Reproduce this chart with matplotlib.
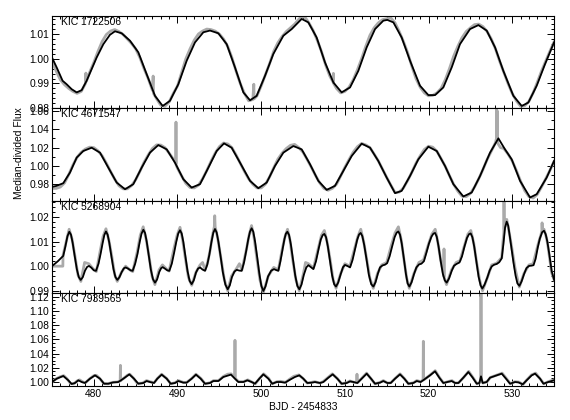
import matplotlib
matplotlib.use('Agg')
import matplotlib.pyplot as plt
from matplotlib.ticker import MultipleLocator, FormatStrFormatter

plt.rcParams['font.family'] = ['Liberation Sans', 'DejaVu Sans']
plt.rcParams['font.size'] = 7.4

# star identifiers, one per panel
kic_ids = ['KIC 1722506', 'KIC 4671547', 'KIC 5268904', 'KIC 7939565']

# ---- KIC 1722506: observed light curve (grey) and fitted model (black)
t1_obs = [475.00, 475.50, 476.00, 476.50, 477.00, 477.50, 478.00, 478.50, 479.00, 479.05, 479.10,
          479.50, 480.00, 480.50, 481.00, 481.50, 482.00, 482.50, 483.00, 483.50, 484.00, 484.50,
          485.00, 485.50, 486.00, 486.50, 487.00, 487.09, 487.13, 487.50, 488.00, 488.50, 489.00,
          489.50, 490.00, 490.50, 491.00, 491.50, 492.00, 492.50, 493.00, 493.50, 494.00, 494.50,
          495.00, 495.50, 496.00, 496.50, 497.00, 497.50, 498.00, 498.50, 499.00, 499.12, 499.16,
          499.50, 500.00, 500.50, 501.00, 501.50, 502.00, 502.50, 503.00, 503.50, 504.00, 504.50,
          504.90, 505.30, 505.70, 506.20, 506.70, 507.20, 507.70, 508.20, 508.60, 508.63, 508.66,
          509.00, 509.50, 510.00, 510.50, 511.00, 511.50, 512.00, 512.50, 513.00, 513.50, 514.00,
          514.50, 515.00, 515.50, 516.00, 516.50, 517.00, 517.50, 518.00, 518.50, 519.00, 519.50,
          520.00, 520.50, 521.00, 521.50, 522.00, 522.50, 523.00, 523.50, 524.00, 524.50, 525.00,
          525.50, 526.00, 526.50, 527.00, 527.50, 528.00, 528.50, 529.00, 529.50, 530.00, 530.50,
          531.00, 531.50, 532.00, 532.50, 533.00, 533.50, 534.00, 534.50, 535.00]
f1_obs = [0.9990, 0.9950, 0.9915, 0.9895, 0.9880, 0.9868, 0.9860, 0.9868, 0.9900, 0.9942, 0.9908,
          0.9945, 0.9985, 1.0030, 1.0070, 1.0098, 1.0112, 1.0118, 1.0110, 1.0098, 1.0080, 1.0062,
          1.0040, 1.0005, 0.9960, 0.9920, 0.9872, 0.9930, 0.9860, 0.9838, 0.9812, 0.9808, 0.9825,
          0.9860, 0.9890, 0.9945, 1.0000, 1.0040, 1.0075, 1.0100, 1.0112, 1.0120, 1.0118, 1.0112,
          1.0100, 1.0080, 1.0050, 1.0005, 0.9950, 0.9900, 0.9860, 0.9830, 0.9835, 0.9897, 0.9838,
          0.9850, 0.9890, 0.9935, 0.9980, 1.0030, 1.0065, 1.0090, 1.0110, 1.0125, 1.0140, 1.0160,
          1.0172, 1.0165, 1.0145, 1.0115, 1.0075, 1.0030, 0.9975, 0.9930, 0.9905, 0.9941, 0.9900,
          0.9880, 0.9862, 0.9868, 0.9885, 0.9915, 0.9955, 1.0000, 1.0050, 1.0095, 1.0125, 1.0145,
          1.0158, 1.0162, 1.0165, 1.0145, 1.0110, 1.0070, 1.0025, 0.9970, 0.9920, 0.9885, 0.9862,
          0.9850, 0.9852, 0.9862, 0.9880, 0.9915, 0.9960, 1.0010, 1.0050, 1.0085, 1.0110, 1.0125,
          1.0138, 1.0140, 1.0130, 1.0110, 1.0080, 1.0040, 0.9990, 0.9945, 0.9900, 0.9860, 0.9830,
          0.9808, 0.9810, 0.9828, 0.9862, 0.9905, 0.9950, 0.9990, 1.0030, 1.0068]
t1_fit = [475.00, 475.56, 476.27, 476.75, 477.35, 477.95, 478.55, 479.14, 479.74, 480.34, 481.14,
          481.93, 482.53, 483.33, 484.32, 485.32, 486.31, 487.31, 488.23, 489.10, 490.10, 491.10,
          492.09, 493.09, 493.88, 494.88, 495.88, 496.87, 497.87, 498.67, 499.46, 500.46, 501.45,
          502.65, 503.65, 504.84, 505.64, 506.63, 507.63, 508.63, 509.62, 510.62, 511.61, 512.61,
          513.61, 514.60, 515.08, 515.80, 516.79, 517.79, 518.98, 519.98, 520.78, 521.77, 522.77,
          523.76, 524.96, 525.96, 526.95, 527.95, 528.94, 530.14, 531.14, 531.93, 532.93, 533.92,
          535.00]
f1_fit = [1.0005, 0.9965, 0.9911, 0.9897, 0.9877, 0.9864, 0.9873, 0.9911, 0.9958, 1.0005, 1.0059,
          1.0097, 1.0111, 1.0103, 1.0073, 1.0026, 0.9938, 0.9850, 0.9809, 0.9830, 0.9897, 0.9992,
          1.0066, 1.0107, 1.0114, 1.0103, 1.0059, 0.9965, 0.9864, 0.9832, 0.9850, 0.9931, 1.0019,
          1.0093, 1.0120, 1.0161, 1.0147, 1.0086, 0.9985, 0.9904, 0.9864, 0.9884, 0.9951, 1.0046,
          1.0120, 1.0154, 1.0157, 1.0147, 1.0086, 0.9992, 0.9891, 0.9853, 0.9853, 0.9884, 0.9965,
          1.0059, 1.0120, 1.0136, 1.0114, 1.0046, 0.9951, 0.9850, 0.9809, 0.9823, 0.9891, 0.9978,
          1.0066]

# ---- KIC 4671547
t2_obs = [475.00, 475.50, 476.00, 476.50, 477.00, 477.50, 478.00, 478.50, 479.00, 479.50, 480.00,
          480.50, 481.00, 481.50, 482.00, 482.50, 483.00, 483.50, 484.00, 484.50, 485.00, 485.50,
          486.00, 486.50, 487.00, 487.50, 488.00, 488.50, 489.00, 489.50, 489.80, 489.82, 489.84,
          490.00, 490.50, 491.00, 491.50, 492.00, 492.50, 493.00, 493.50, 494.00, 494.50, 495.00,
          495.50, 496.00, 496.50, 497.00, 497.50, 498.00, 498.50, 499.00, 499.50, 500.00, 500.50,
          501.00, 501.50, 502.00, 502.50, 503.00, 503.50, 504.00, 504.50, 505.00, 505.50, 506.00,
          506.50, 507.00, 507.50, 508.00, 508.50, 509.00, 509.50, 510.00, 510.50, 511.00, 511.50,
          512.00, 512.50, 513.00, 513.50, 514.00, 514.50, 515.00, 515.50, 516.00, 516.50, 517.00,
          517.50, 518.00, 518.50, 519.00, 519.50, 520.00, 520.50, 521.00, 521.50, 522.00, 522.50,
          523.00, 523.50, 524.00, 524.50, 525.00, 525.50, 526.00, 526.50, 527.00, 527.50, 528.00,
          528.12, 528.14, 528.16, 528.20, 528.22, 528.26, 528.60, 529.00, 529.50, 530.00, 530.50,
          531.00, 531.50, 532.00, 532.50, 533.00, 533.50, 534.00, 534.50, 535.00]
f2_obs = [0.9755, 0.9755, 0.9770, 0.9815, 0.9905, 1.0010, 1.0095, 1.0150, 1.0185, 1.0205, 1.0200,
          1.0165, 1.0110, 1.0030, 0.9940, 0.9855, 0.9785, 0.9750, 0.9750, 0.9785, 0.9850, 0.9940,
          1.0040, 1.0120, 1.0190, 1.0230, 1.0228, 1.0200, 1.0140, 1.0075, 1.0025, 1.0478, 1.0010,
          0.9975, 0.9890, 0.9810, 0.9765, 0.9760, 0.9790, 0.9860, 0.9950, 1.0050, 1.0140, 1.0210,
          1.0250, 1.0240, 1.0200, 1.0120, 1.0030, 0.9940, 0.9860, 0.9800, 0.9760, 0.9760, 0.9800,
          0.9880, 0.9980, 1.0075, 1.0140, 1.0190, 1.0225, 1.0235, 1.0200, 1.0150, 1.0070, 0.9985,
          0.9895, 0.9815, 0.9755, 0.9735, 0.9755, 0.9800, 0.9890, 0.9985, 1.0070, 1.0150, 1.0210,
          1.0245, 1.0230, 1.0200, 1.0130, 1.0055, 0.9965, 0.9875, 0.9790, 0.9710, 0.9715, 0.9760,
          0.9840, 0.9930, 1.0030, 1.0110, 1.0180, 1.0215, 1.0205, 1.0160, 1.0080, 0.9995, 0.9895,
          0.9800, 0.9725, 0.9670, 0.9665, 0.9700, 0.9770, 0.9860, 0.9960, 1.0070, 1.0160, 1.0255,
          1.0300, 1.0620, 1.0300, 1.0290, 1.0600, 1.0250, 1.0200, 1.0190, 1.0130, 1.0055, 0.9950,
          0.9835, 0.9730, 0.9665, 0.9650, 0.9690, 0.9770, 0.9860, 0.9950, 1.0050]
t2_fit = [475.00, 475.56, 476.35, 477.15, 477.95, 478.74, 479.74, 480.74, 481.73, 482.73, 483.73,
          484.72, 485.72, 486.71, 487.71, 488.71, 489.70, 490.70, 491.69, 492.69, 493.69, 494.68,
          495.56, 496.47, 497.47, 498.67, 499.66, 500.66, 501.65, 502.65, 503.84, 504.84, 505.84,
          506.83, 507.83, 508.82, 509.82, 510.82, 512.01, 513.01, 514.00, 515.00, 516.00, 516.79,
          517.79, 518.78, 519.98, 520.98, 521.97, 522.97, 524.16, 525.16, 526.16, 527.35, 528.35,
          529.14, 529.94, 530.94, 532.13, 532.93, 534.12, 535.00]
f2_fit = [0.9772, 0.9783, 0.9812, 0.9928, 1.0091, 1.0163, 1.0199, 1.0145, 0.9982, 0.9819, 0.9746,
          0.9801, 0.9982, 1.0145, 1.0228, 1.0181, 1.0036, 0.9855, 0.9764, 0.9801, 0.9982, 1.0163,
          1.0246, 1.0199, 1.0036, 0.9837, 0.9757, 0.9819, 1.0000, 1.0145, 1.0217, 1.0181, 1.0018,
          0.9837, 0.9739, 0.9783, 0.9946, 1.0109, 1.0243, 1.0199, 1.0054, 0.9873, 0.9703, 0.9728,
          0.9891, 1.0072, 1.0210, 1.0163, 1.0000, 0.9801, 0.9667, 0.9710, 0.9891, 1.0145, 1.0301,
          1.0181, 1.0072, 0.9837, 0.9656, 0.9692, 0.9873, 1.0054]

# ---- KIC 5268904
t3_obs = [475.00, 476.30, 476.32, 476.70, 477.05, 477.40, 477.75, 478.10, 478.45, 478.90, 479.40,
          479.90, 480.30, 480.75, 481.10, 481.45, 481.80, 482.15, 482.50, 482.80, 483.30, 483.80,
          484.30, 484.65, 485.20, 485.55, 485.90, 486.25, 486.60, 486.95, 487.30, 487.80, 488.20,
          488.70, 489.00, 489.60, 489.95, 490.30, 490.60, 490.90, 491.30, 491.70, 492.20, 492.70,
          493.00, 493.30, 493.60, 493.90, 494.15, 494.40, 494.45, 494.50, 494.80, 495.15, 495.60,
          496.00, 496.45, 497.05, 497.40, 497.70, 498.25, 498.55, 498.85, 499.15, 499.45, 499.85,
          500.25, 500.85, 501.50, 502.05, 502.55, 502.85, 503.15, 503.45, 503.75, 504.15, 504.55,
          505.05, 505.30, 505.65, 506.25, 506.85, 507.20, 507.55, 507.90, 508.25, 508.60, 508.95,
          509.50, 510.00, 510.60, 511.20, 511.55, 511.90, 512.25, 512.60, 513.00, 513.40, 513.90,
          514.40, 515.00, 515.60, 516.00, 516.40, 516.75, 517.05, 517.40, 517.70, 518.25, 518.85,
          519.40, 520.00, 520.40, 520.80, 521.10, 521.45, 521.83, 521.85, 521.87, 522.15, 522.75,
          523.30, 523.75, 524.35, 524.70, 525.05, 525.40, 525.75, 526.10, 526.45, 527.05, 527.55,
          528.15, 528.75, 528.90, 529.00, 529.02, 529.05, 529.35, 529.65, 529.95, 530.35, 530.85,
          531.40, 532.00, 532.50, 533.10, 533.45, 533.55, 533.57, 533.60, 533.80, 534.10, 534.30,
          534.70, 535.00]
f3_obs = [1.0000, 1.0000, 1.0045, 1.0100, 1.0150, 1.0110, 1.0040, 0.9965, 0.9938, 1.0015, 1.0010,
          0.9990, 0.9978, 1.0060, 1.0120, 1.0152, 1.0105, 1.0040, 0.9965, 0.9938, 0.9975, 1.0000,
          0.9985, 0.9978, 1.0060, 1.0125, 1.0160, 1.0110, 1.0040, 0.9960, 0.9925, 0.9985, 1.0005,
          0.9988, 0.9980, 1.0075, 1.0125, 1.0158, 1.0110, 1.0040, 0.9955, 0.9922, 0.9975, 1.0005,
          1.0015, 0.9985, 1.0015, 1.0065, 1.0120, 1.0160, 1.0205, 1.0160, 1.0115, 1.0040, 0.9945,
          0.9900, 0.9960, 0.9990, 1.0010, 0.9985, 1.0070, 1.0125, 1.0165, 1.0115, 1.0040, 0.9945,
          0.9893, 0.9960, 0.9995, 0.9985, 1.0075, 1.0120, 1.0150, 1.0105, 1.0030, 0.9945, 0.9900,
          0.9970, 1.0015, 1.0010, 0.9992, 1.0075, 1.0125, 1.0145, 1.0095, 1.0025, 0.9945, 0.9910,
          0.9970, 1.0010, 1.0000, 1.0075, 1.0120, 1.0150, 1.0100, 1.0030, 0.9950, 0.9910, 0.9970,
          1.0005, 1.0015, 1.0090, 1.0135, 1.0160, 1.0105, 1.0030, 0.9950, 0.9910, 0.9970, 1.0015,
          1.0025, 1.0090, 1.0130, 1.0150, 1.0100, 1.0025, 0.9958, 1.0070, 0.9955, 0.9925, 0.9985,
          1.0015, 1.0022, 1.0090, 1.0130, 1.0145, 1.0095, 1.0015, 0.9945, 0.9900, 0.9955, 1.0005,
          1.0012, 1.0035, 1.0100, 1.0135, 1.0267, 1.0150, 1.0190, 1.0135, 1.0075, 0.9990, 0.9915,
          0.9970, 1.0005, 1.0010, 1.0090, 1.0130, 1.0145, 1.0176, 1.0150, 1.0150, 1.0115, 1.0075,
          0.9975, 0.9945]
# model read as (time, flux) pairs; this star's curve needs denser sampling
fit3 = [(475.00, 1.0000), (475.70, 1.0020), (476.35, 1.0042), (476.60, 1.0080), (476.85, 1.0122),
        (477.07, 1.0140), (477.27, 1.0128), (477.47, 1.0095), (477.72, 1.0040), (477.97, 0.9988),
        (478.20, 0.9956), (478.43, 0.9944), (478.68, 0.9955), (478.95, 0.9982), (479.20, 0.9997),
        (479.42, 1.0001), (479.70, 0.9994), (480.00, 0.9983), (480.26, 0.9981),
        (480.56, 1.0010), (480.81, 1.0050), (481.06, 1.0095), (481.26, 1.0127), (481.45, 1.0141),
        (481.65, 1.0128), (481.85, 1.0095), (482.10, 1.0040), (482.35, 0.9988), (482.58, 0.9956),
        (482.81, 0.9944), (483.06, 0.9955), (483.33, 0.9976), (483.58, 0.9991), (483.80, 0.9995),
        (484.10, 0.9990), (484.40, 0.9983), (484.64, 0.9981),
        (484.94, 1.0010), (485.22, 1.0050), (485.48, 1.0098), (485.70, 1.0132), (485.92, 1.0148),
        (486.12, 1.0135), (486.32, 1.0100), (486.57, 1.0043), (486.82, 0.9985), (487.07, 0.9947),
        (487.31, 0.9933), (487.56, 0.9946), (487.83, 0.9977), (488.05, 0.9992), (488.23, 0.9996),
        (488.50, 0.9990), (488.78, 0.9983), (489.02, 0.9981),
        (489.32, 1.0010), (489.60, 1.0055), (489.86, 1.0100), (490.09, 1.0133), (490.30, 1.0146),
        (490.50, 1.0133), (490.70, 1.0098), (490.95, 1.0040), (491.20, 0.9980), (491.45, 0.9940),
        (491.69, 0.9927), (491.94, 0.9942), (492.21, 0.9974), (492.45, 0.9990), (492.69, 0.9995),
        (493.00, 0.9986), (493.29, 0.9981),
        (493.55, 1.0005), (493.80, 1.0045), (494.05, 1.0097), (494.28, 1.0136), (494.48, 1.0151),
        (494.68, 1.0137), (494.90, 1.0097), (495.15, 1.0040), (495.42, 0.9975), (495.72, 0.9925),
        (496.00, 0.9906), (496.25, 0.9922), (496.50, 0.9955), (496.80, 0.9978), (497.07, 0.9985),
        (497.40, 0.9982), (497.67, 0.9981),
        (497.95, 1.0015), (498.20, 1.0060), (498.45, 1.0108), (498.66, 1.0140), (498.86, 1.0154),
        (499.06, 1.0140), (499.27, 1.0100), (499.52, 1.0038), (499.78, 0.9970), (500.02, 0.9920),
        (500.26, 0.9899), (500.52, 0.9918), (500.82, 0.9958), (501.20, 0.9982), (501.53, 0.9988),
        (501.80, 0.9984), (502.05, 0.9981),
        (502.30, 1.0020), (502.55, 1.0068), (502.78, 1.0110), (502.95, 1.0132), (503.13, 1.0140),
        (503.33, 1.0127), (503.55, 1.0088), (503.80, 1.0028), (504.07, 0.9962), (504.32, 0.9920),
        (504.56, 0.9906), (504.82, 0.9925), (505.10, 0.9965), (505.40, 0.9995), (505.64, 1.0004),
        (505.95, 0.9996), (506.24, 0.9988),
        (506.55, 1.0020), (506.85, 1.0068), (507.12, 1.0108), (507.35, 1.0126), (507.55, 1.0131),
        (507.75, 1.0118), (507.97, 1.0080), (508.22, 1.0022), (508.48, 0.9962), (508.72, 0.9927),
        (508.94, 0.9917), (509.20, 0.9933), (509.50, 0.9967), (509.78, 0.9996), (510.02, 1.0005),
        (510.35, 1.0000), (510.62, 0.9995),
        (510.92, 1.0025), (511.22, 1.0069), (511.48, 1.0108), (511.70, 1.0129), (511.89, 1.0135),
        (512.09, 1.0122), (512.32, 1.0085), (512.58, 1.0030), (512.87, 0.9965), (513.15, 0.9927),
        (513.41, 0.9917), (513.67, 0.9935), (513.95, 0.9970), (514.20, 0.9995), (514.50, 1.0003),
        (514.80, 1.0006), (515.05, 1.0012), (515.35, 1.0040),
        (515.65, 1.0080), (515.95, 1.0118), (516.19, 1.0136), (516.39, 1.0141), (516.59, 1.0128),
        (516.80, 1.0092), (517.05, 1.0032), (517.30, 0.9968), (517.50, 0.9930), (517.71, 0.9917),
        (517.98, 0.9935), (518.27, 0.9968), (518.55, 0.9995), (518.86, 1.0007), (519.15, 1.0010),
        (519.45, 1.0020), (519.75, 1.0055),
        (520.05, 1.0092), (520.35, 1.0120), (520.58, 1.0132), (520.78, 1.0135), (520.98, 1.0120),
        (521.20, 1.0080), (521.45, 1.0022), (521.72, 0.9968), (521.95, 0.9942), (522.17, 0.9933),
        (522.45, 0.9950), (522.77, 0.9981), (523.05, 1.0002), (523.35, 1.0009), (523.70, 1.0015),
        (524.00, 1.0040), (524.30, 1.0080),
        (524.60, 1.0115), (524.84, 1.0130), (525.04, 1.0133), (525.24, 1.0118), (525.47, 1.0078),
        (525.72, 1.0018), (525.98, 0.9958), (526.22, 0.9922), (526.43, 0.9909), (526.70, 0.9925),
        (527.03, 0.9954), (527.30, 0.9982), (527.55, 0.9999), (527.85, 1.0006), (528.15, 1.0009),
        (528.45, 1.0016), (528.75, 1.0032),
        (528.95, 1.0090), (529.15, 1.0158), (529.34, 1.0181), (529.52, 1.0165), (529.72, 1.0120),
        (529.94, 1.0065), (530.15, 1.0015), (530.40, 0.9962), (530.62, 0.9930), (530.86, 0.9920),
        (531.12, 0.9938), (531.41, 0.9967), (531.70, 0.9992), (532.01, 1.0001), (532.30, 1.0002),
        (532.55, 1.0004), (532.80, 1.0030), (533.05, 1.0075),
        (533.30, 1.0112), (533.58, 1.0138), (533.80, 1.0144), (534.00, 1.0130), (534.20, 1.0100),
        (534.45, 1.0045), (534.72, 0.9980), (535.00, 0.9945)]
t3_fit = [p[0] for p in fit3]
f3_fit = [p[1] for p in fit3]

# ---- KIC 7939565
t4_obs = [475.00, 475.50, 476.00, 476.40, 476.80, 477.20, 477.60, 478.00, 478.30, 478.70, 479.00,
          479.50, 480.00, 480.30, 480.70, 481.20, 481.70, 482.20, 482.80, 483.15, 483.18, 483.21,
          483.60, 484.00, 484.30, 484.70, 485.20, 485.80, 486.30, 486.70, 487.20, 487.60, 488.10,
          488.70, 489.20, 489.70, 490.10, 490.70, 491.10, 491.70, 492.20, 492.80, 493.30, 493.90,
          494.30, 494.90, 495.50, 496.00, 496.40, 496.84, 496.87, 496.90, 497.30, 497.90, 498.40,
          498.90, 499.30, 499.80, 500.30, 500.90, 501.30, 501.90, 502.30, 502.90, 503.40, 503.90,
          504.50, 505.00, 505.50, 506.00, 506.40, 507.00, 507.40, 508.00, 508.50, 509.10, 509.60,
          510.20, 510.60, 511.00, 511.40, 511.45, 511.50, 512.00, 512.60, 513.10, 513.60, 514.20,
          514.60, 515.10, 515.50, 516.00, 516.60, 517.10, 517.60, 518.20, 518.60, 519.05, 519.35,
          519.38, 519.41, 519.60, 520.20, 520.80, 521.30, 521.80, 522.30, 522.80, 523.20, 523.60,
          524.20, 524.80, 525.30, 525.80, 526.10, 526.25, 526.27, 526.30, 526.50, 527.00, 527.40,
          528.20, 528.80, 529.30, 529.80, 530.30, 530.80, 531.30, 531.70, 532.30, 532.80, 533.30,
          533.80, 534.30, 535.00]
f4_obs = [1.0000, 1.0045, 1.0075, 1.0090, 1.0045, 0.9980, 0.9975, 1.0015, 1.0030, 1.0000, 0.9990,
          1.0045, 1.0090, 1.0095, 1.0050, 0.9980, 0.9975, 0.9995, 1.0000, 1.0015, 1.0235, 1.0020,
          1.0055, 1.0095, 1.0110, 1.0060, 0.9980, 0.9985, 1.0020, 1.0005, 0.9990, 1.0050, 1.0110,
          1.0050, 0.9975, 0.9990, 1.0020, 0.9995, 0.9995, 1.0050, 1.0110, 1.0050, 0.9975, 0.9990,
          1.0020, 1.0020, 1.0080, 1.0110, 1.0115, 1.0060, 1.0588, 1.0050, 1.0005, 1.0005, 1.0030,
          1.0000, 0.9975, 1.0050, 1.0115, 1.0050, 0.9975, 1.0005, 1.0010, 0.9995, 1.0040, 1.0080,
          1.0100, 1.0050, 0.9985, 0.9995, 1.0005, 0.9985, 1.0005, 1.0065, 1.0115, 1.0050, 0.9975,
          0.9990, 1.0015, 1.0000, 0.9990, 1.0110, 0.9990, 1.0050, 1.0125, 1.0050, 0.9975, 0.9995,
          1.0020, 0.9985, 0.9990, 1.0050, 1.0115, 1.0050, 0.9975, 0.9990, 1.0020, 1.0005, 1.0030,
          1.0574, 1.0030, 1.0045, 1.0100, 1.0160, 1.0065, 0.9985, 1.0005, 1.0020, 0.9985, 0.9990,
          1.0065, 1.0150, 1.0065, 0.9975, 0.9990, 1.0040, 1.1250, 1.0040, 0.9985, 1.0005, 1.0065,
          1.0100, 1.0125, 1.0050, 0.9975, 1.0005, 1.0000, 0.9965, 1.0025, 1.0100, 1.0125, 1.0050,
          0.9975, 1.0005, 1.0030]
t4_fit = [475.00, 475.56, 476.35, 476.95, 477.35, 477.75, 478.15, 478.55, 478.94, 479.54, 480.14,
          480.74, 481.22, 481.73, 482.33, 482.93, 483.53, 484.24, 484.80, 485.32, 485.92, 486.31,
          486.71, 487.19, 487.59, 488.11, 488.71, 489.18, 489.70, 490.10, 490.70, 491.10, 491.69,
          492.21, 492.77, 493.29, 493.88, 494.28, 494.88, 495.48, 496.39, 496.87, 497.27, 497.87,
          498.35, 498.86, 499.26, 499.78, 500.26, 500.86, 501.33, 501.85, 502.33, 502.85, 503.45,
          504.04, 504.56, 505.04, 505.52, 506.04, 506.43, 507.03, 507.43, 508.03, 508.55, 509.10,
          509.62, 510.22, 510.62, 511.02, 511.49, 512.01, 512.61, 513.13, 513.61, 514.20, 514.60,
          515.08, 515.48, 516.00, 516.59, 517.11, 517.59, 518.19, 518.59, 519.06, 519.46, 520.18,
          520.78, 521.29, 521.77, 522.25, 522.77, 523.17, 523.57, 524.16, 524.76, 525.28, 525.76,
          526.08, 526.27, 526.47, 526.95, 527.35, 528.15, 528.75, 529.26, 529.74, 530.34, 530.74,
          531.26, 531.73, 532.33, 532.73, 533.33, 533.73, 534.32, 535.00]
f4_fit = [1.0000, 1.0047, 1.0085, 1.0024, 0.9972, 0.9986, 1.0024, 1.0000, 0.9986, 1.0047, 1.0094,
          1.0047, 0.9976, 0.9976, 0.9995, 1.0000, 1.0047, 1.0108, 1.0047, 0.9976, 0.9986, 1.0014,
          1.0000, 0.9986, 1.0047, 1.0104, 1.0047, 0.9976, 0.9986, 1.0014, 0.9991, 0.9991, 1.0047,
          1.0104, 1.0047, 0.9976, 0.9986, 1.0014, 1.0014, 1.0071, 1.0104, 1.0047, 1.0000, 1.0000,
          1.0024, 1.0000, 0.9976, 1.0047, 1.0108, 1.0047, 0.9976, 1.0000, 1.0000, 0.9991, 1.0033,
          1.0071, 1.0094, 1.0047, 0.9986, 0.9991, 1.0000, 0.9986, 1.0000, 1.0061, 1.0108, 1.0047,
          0.9976, 0.9986, 1.0009, 1.0000, 0.9986, 1.0047, 1.0118, 1.0047, 0.9976, 0.9991, 1.0014,
          0.9986, 0.9986, 1.0047, 1.0108, 1.0047, 0.9976, 0.9986, 1.0014, 1.0000, 1.0033, 1.0094,
          1.0151, 1.0061, 0.9986, 1.0000, 1.0014, 0.9986, 0.9986, 1.0061, 1.0141, 1.0061, 0.9976,
          0.9986, 1.0080, 0.9986, 1.0000, 1.0061, 1.0094, 1.0118, 1.0047, 0.9976, 1.0000, 0.9995,
          0.9967, 1.0024, 1.0094, 1.0118, 1.0047, 0.9976, 1.0000, 1.0024]

obs_t = [t1_obs, t2_obs, t3_obs, t4_obs]
obs_f = [f1_obs, f2_obs, f3_obs, f4_obs]
fit_t = [t1_fit, t2_fit, t3_fit, t4_fit]
fit_f = [f1_fit, f2_fit, f3_fit, f4_fit]

# axis setup per panel: y limits, major step, minor step
ylims = [(0.9799, 1.0173), (0.9618, 1.0627), (0.9889, 1.0265), (0.9944, 1.1248)]
ymajor = [0.01, 0.02, 0.01, 0.02]
yminor = [0.002, 0.01, 0.002, 0.005]

fig, axes = plt.subplots(4, 1, sharex=True, figsize=(5.7, 4.2), dpi=100)
fig.subplots_adjust(left=0.0912, right=0.972, top=0.962, bottom=0.081, hspace=0)

for i, ax in enumerate(axes):
    ax.plot(obs_t[i], obs_f[i], color='#aaaaaa', lw=2.0, solid_joinstyle='round')
    ax.plot(fit_t[i], fit_f[i], color='black', lw=1.3, solid_joinstyle='round')
    ax.set_xlim(475, 535)
    ax.set_ylim(*ylims[i])
    ax.yaxis.set_major_locator(MultipleLocator(ymajor[i]))
    ax.yaxis.set_minor_locator(MultipleLocator(yminor[i]))
    ax.yaxis.set_major_formatter(FormatStrFormatter('%.2f'))
    ax.xaxis.set_major_locator(MultipleLocator(10))
    ax.xaxis.set_minor_locator(MultipleLocator(1))
    ax.tick_params(which='both', direction='in', top=True, right=True, width=0.7,
                   labelsize=7.4, pad=2)
    ax.tick_params(which='major', length=5)
    ax.tick_params(which='minor', length=2.5)
    for sp in ax.spines.values():
        sp.set_linewidth(0.8)
    ax.text(0.018, 0.99, kic_ids[i], transform=ax.transAxes, ha='left', va='top',
            fontsize=7.4, zorder=5)

fig.text(19 / 570, 1 - 153 / 420, 'Median-divided Flux', rotation=90,
         ha='center', va='center', fontsize=7.4)
fig.text(303 / 570, 1 - 407 / 420, 'BJD - 2454833', ha='center', va='center',
         fontsize=7.4)

fig.savefig('out.png', dpi=100)
